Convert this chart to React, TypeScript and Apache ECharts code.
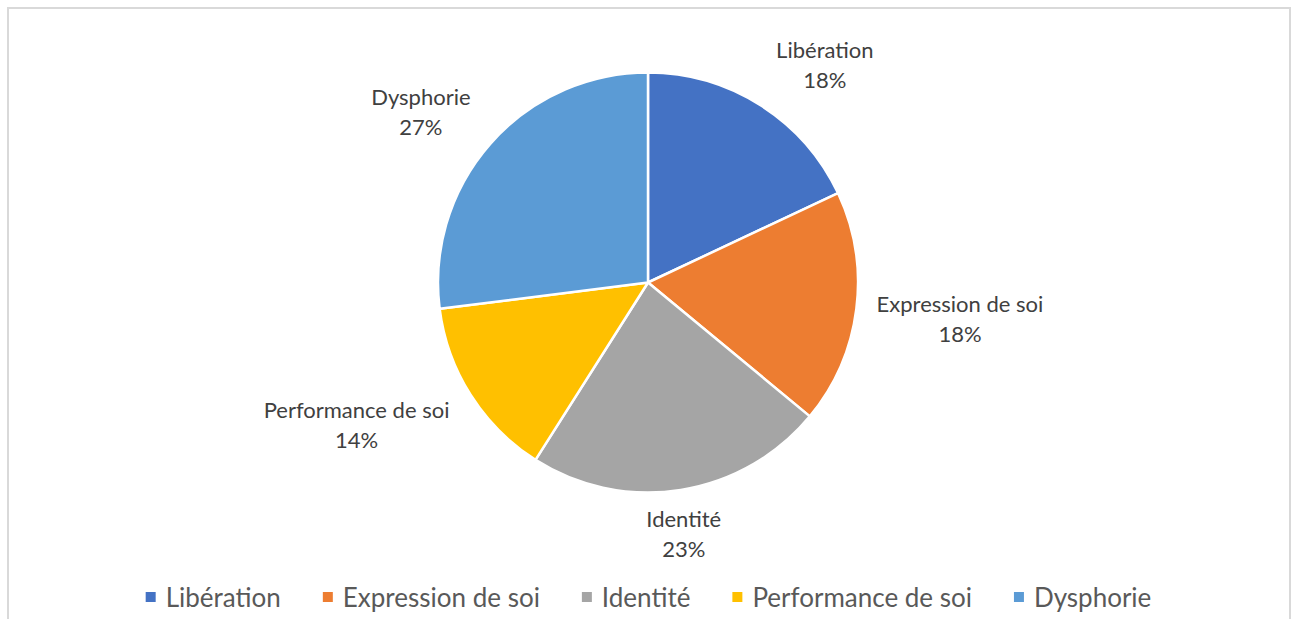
import React, { useEffect, useRef } from "react";
import * as echarts from "echarts";

const categories = ["Libération", "Expression de soi", "Identité", "Performance de soi", "Dysphorie"];
const values = [18, 18, 23, 14, 27];
const colors = ["#4472C4", "#ED7D31", "#A5A5A5", "#FFC000", "#5B9BD5"];
// label placement (style): distance from centre and angular tweak (deg) from slice mid-angle
const labelDist = [281, 314, 254, 324, 284];
const labelAngleTweak = [6.6, -0.7, 0.9, 6.5, -4.5];

const CX = 648;
const CY = 282.5;
const R = 210;

export default function App() {
  const ref = useRef<HTMLDivElement>(null);
  useEffect(() => {
    if (!ref.current) return;
    const chart = echarts.init(ref.current, null, { renderer: "svg" });
    const total = values.reduce((a, b) => a + b, 0);
    const mids: number[] = [];
    let acc = 0;
    values.forEach((v) => {
      mids.push(((acc + v / 2) / total) * 360);
      acc += v;
    });
    const font = "Lato, 'Open Sans', sans-serif";
    chart.setOption({
      animation: false,
      backgroundColor: "#ffffff",
      color: colors,
      legend: {
        data: categories,
        left: "center",
        top: 579,
        icon: "rect",
        itemWidth: 12,
        itemHeight: 12,
        itemGap: 40,
        textStyle: { color: "#595959", fontSize: 26, fontFamily: font, padding: [0, 0, 0, 4] },
      },
      series: [
        {
          type: "pie",
          center: [CX, CY],
          radius: R,
          startAngle: 90,
          clockwise: true,
          percentPrecision: 0,
          itemStyle: { borderColor: "#ffffff", borderWidth: 2.5 },
          label: {
            show: true,
            position: "outside",
            formatter: "{b}\n{d}%",
            color: "#404040",
            fontSize: 22,
            fontFamily: font,
            lineHeight: 30,
            align: "center",
          },
          labelLine: { show: false },
          labelLayout: (params: any) => {
            const i = params.dataIndex;
            const a = ((mids[i] + labelAngleTweak[i]) * Math.PI) / 180;
            return {
              x: CX + labelDist[i] * Math.sin(a),
              y: CY - labelDist[i] * Math.cos(a),
              align: "center",
              verticalAlign: "middle",
            };
          },
          emphasis: { disabled: true },
          data: categories.map((c, i) => ({ name: c, value: values[i] })),
        },
      ],
    });
    return () => chart.dispose();
  }, []);
  return (
    <>
      <div ref={ref} style={{ position: "fixed", left: 0, top: 0, width: 1295, height: 619 }} />
      <div
        style={{
          position: "fixed",
          left: 7,
          top: 7,
          width: 1284,
          height: 700,
          boxSizing: "border-box",
          border: "2px solid #d9d9d9",
          pointerEvents: "none",
        }}
      />
    </>
  );
}
